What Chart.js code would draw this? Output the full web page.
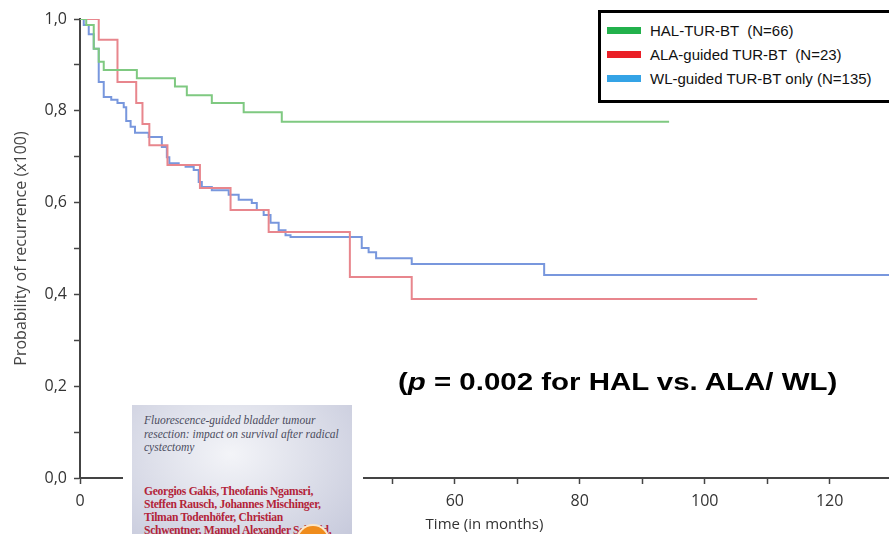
<!DOCTYPE html>
<html>
<head>
<meta charset="utf-8">
<script src="https://cdn.jsdelivr.net/npm/chart.js@4.4.0/dist/chart.umd.min.js"></script>
<style>
  html, body { margin: 0; padding: 0; background: #fff; }
  #wrap { position: relative; width: 889px; height: 534px; overflow: hidden; }
  #legend { position: absolute; left: 598px; top: 10px; width: 300px; height: 93px; box-sizing: border-box;
    border: 3px solid #000; background: #fff; padding-top: 5px;
    font-family: 'Liberation Sans', Arial, sans-serif; font-size: 15px; color: #111; }
  #legend .row { height: 24px; display: flex; align-items: center; white-space: pre; }
  #legend .sw { width: 34px; height: 7px; margin-left: 6px; margin-right: 9px; }
  #pval { position: absolute; left: 398px; top: 369px; font-family: 'Liberation Sans', Arial, sans-serif;
    font-weight: bold; font-size: 23px; color: #000; white-space: pre;
    transform: scaleX(1.28); transform-origin: 0 50%; }
  #gap { position: absolute; left: 123px; top: 398px; width: 240px; height: 136px; background: #fff; }
  #cover { position: absolute; left: 132px; top: 405px; width: 220px; height: 140px; overflow: hidden;
    background: radial-gradient(ellipse at 45% 35%, #f3f4f8 0%, #dcdee9 50%, #c4c7da 100%); }
  #cover .it { font-family: 'Liberation Serif', 'DejaVu Serif', serif; font-style: italic; font-size: 11.5px;
    line-height: 13.5px; color: #4b4c5e; padding: 9px 0 0 12px; white-space: pre; }
  #cover .au { font-family: 'Liberation Serif', 'DejaVu Serif', serif; font-weight: bold; font-size: 11.6px;
    letter-spacing: -0.3px; line-height: 13px; color: #b32439; padding: 30px 0 0 12px; white-space: pre; }
  #badge { position: absolute; left: 166px; top: 121px; width: 30px; height: 30px; border-radius: 50%;
    background: #ef8c1c; box-shadow: 0 0 0 2px #fbe6c8; }
</style>
</head>
<body>
<div id="wrap">
  <canvas id="km" width="889" height="534"></canvas>
  <div id="legend"></div>
  <div id="pval">(<i>p</i> = 0.002 for HAL vs. ALA/ WL)</div>
  <div id="gap"></div>
  <div id="cover">
    <div class="it">Fluorescence-guided bladder tumour
resection: impact on survival after radical
cystectomy</div>
    <div class="au">Georgios Gakis, Theofanis Ngamsri,
Steffen Rausch, Johannes Mischinger,
Tilman Todenhöfer, Christian
Schwentner, Manuel Alexander Schmid,</div>
    <div id="badge"></div>
  </div>
</div>
<script>
// Kaplan-Meier curves (months, probability)
const halMonths = [0, 1.0, 2.2, 3.0, 3.8, 9.1, 15.2, 17.1, 21.1, 26.2, 32.3, 94.3];
const halProb = [1.0, 0.987, 0.935, 0.907, 0.889, 0.871, 0.853, 0.834, 0.817, 0.797, 0.776, 0.776];

const alaMonths = [0, 3.0, 6.0, 9.0, 10.0, 11.1, 14.0, 19.2, 24.1, 30.2, 43.2, 53.1, 108.4];
const alaProb = [1.0, 0.955, 0.863, 0.817, 0.771, 0.725, 0.682, 0.632, 0.584, 0.536, 0.438, 0.390, 0.390];

const wlMonths = [0, 0.6, 1.4, 2.2, 3.0, 3.8, 5.0, 6.0, 7.0, 7.4, 8.1, 8.8, 11.0, 13.1, 13.9, 14.3, 15.8,
  16.9, 18.2, 19.0, 19.5, 21.1, 23.8, 25.4, 27.5, 28.3, 29.4, 30.5, 31.8, 32.9, 33.7, 45.1, 46.2, 47.4,
  53.1, 74.3, 130];
const wlProb = [1.0, 0.987, 0.967, 0.935, 0.863, 0.830, 0.824, 0.817, 0.808, 0.778, 0.765, 0.752, 0.743,
  0.721, 0.699, 0.686, 0.682, 0.678, 0.671, 0.645, 0.634, 0.627, 0.617, 0.606, 0.599, 0.584, 0.573, 0.556,
  0.540, 0.529, 0.525, 0.501, 0.492, 0.479, 0.466, 0.442, 0.442];

const groupLabels = ["HAL-TUR-BT  (N=66)", "ALA-guided TUR-BT  (N=23)", "WL-guided TUR-BT only (N=135)"];
const legendColors = ["#22b14c", "#ea1f27", "#34a3e6"];
const lineColors = ["#7fc981", "#e8868d", "#7897dd"];

const xTickValues = [0, 10, 20, 30, 40, 50, 60, 70, 80, 90, 100, 110, 120];
const yTickValues = [0, 0.1, 0.2, 0.3, 0.4, 0.5, 0.6, 0.7, 0.8, 0.9, 1.0];

function pts(xs, ys) {
  return xs.map((x, i) => ({ x: x, y: ys[i] }));
}

const series = [pts(halMonths, halProb), pts(alaMonths, alaProb), pts(wlMonths, wlProb)];

const datasets = series.map((d, i) => ({
  label: groupLabels[i],
  data: d,
  borderColor: lineColors[i],
  borderWidth: 2,
  pointRadius: 0,
  stepped: "before",
  fill: false,
}));

// legend box
const legend = document.getElementById("legend");
groupLabels.forEach((lab, i) => {
  const row = document.createElement("div");
  row.className = "row";
  row.innerHTML = '<span class="sw" style="background:' + legendColors[i] + '"></span>' + lab;
  legend.appendChild(row);
});

Chart.defaults.font.family = "'Open Sans', sans-serif";
Chart.defaults.color = "#333";

const ctx = document.getElementById("km").getContext("2d");
new Chart(ctx, {
  type: "line",
  data: { datasets: datasets },
  options: {
    responsive: false,
    animation: false,
    devicePixelRatio: 1,
    layout: { padding: { top: 19, right: 0, left: 0, bottom: 0 } },
    plugins: { legend: { display: false }, tooltip: { enabled: false } },
    scales: {
      x: {
        type: "linear",
        min: 0,
        max: 129.5,
        afterBuildTicks: (s) => { s.ticks = xTickValues.map((v) => ({ value: v })); },
        afterFit: (s) => { s.height = 56; },
        ticks: {
          font: { size: 16 },
          color: "#333",
          padding: 8,
          maxRotation: 0,
          autoSkip: false,
          callback: (v) => (v % 20 === 0 ? String(v) : ""),
        },
        grid: { drawOnChartArea: false, tickLength: 6, tickColor: "#444", tickWidth: 1.5 },
        border: { color: "#444", width: 2 },
        title: { display: true, text: "Time (in months)", font: { size: 15 }, color: "#333", padding: { top: 0, bottom: 0 } },
      },
      y: {
        min: 0,
        max: 1,
        afterBuildTicks: (s) => { s.ticks = yTickValues.map((v) => ({ value: v })); },
        afterFit: (s) => { s.width = 80; },
        ticks: {
          font: { size: 16 },
          color: "#333",
          padding: 7,
          autoSkip: false,
          callback: (v) => (Math.round(v * 10) % 2 === 0 ? v.toFixed(1).replace(".", ",") : ""),
        },
        grid: { drawOnChartArea: false, tickLength: 6, tickColor: "#444", tickWidth: 1.5 },
        border: { color: "#444", width: 2 },
        title: { display: true, text: "Probability of recurrence (x100)", font: { size: 16 }, color: "#444", padding: { top: 12, bottom: 0 } },
      },
    },
  },
});
</script>
</body>
</html>
